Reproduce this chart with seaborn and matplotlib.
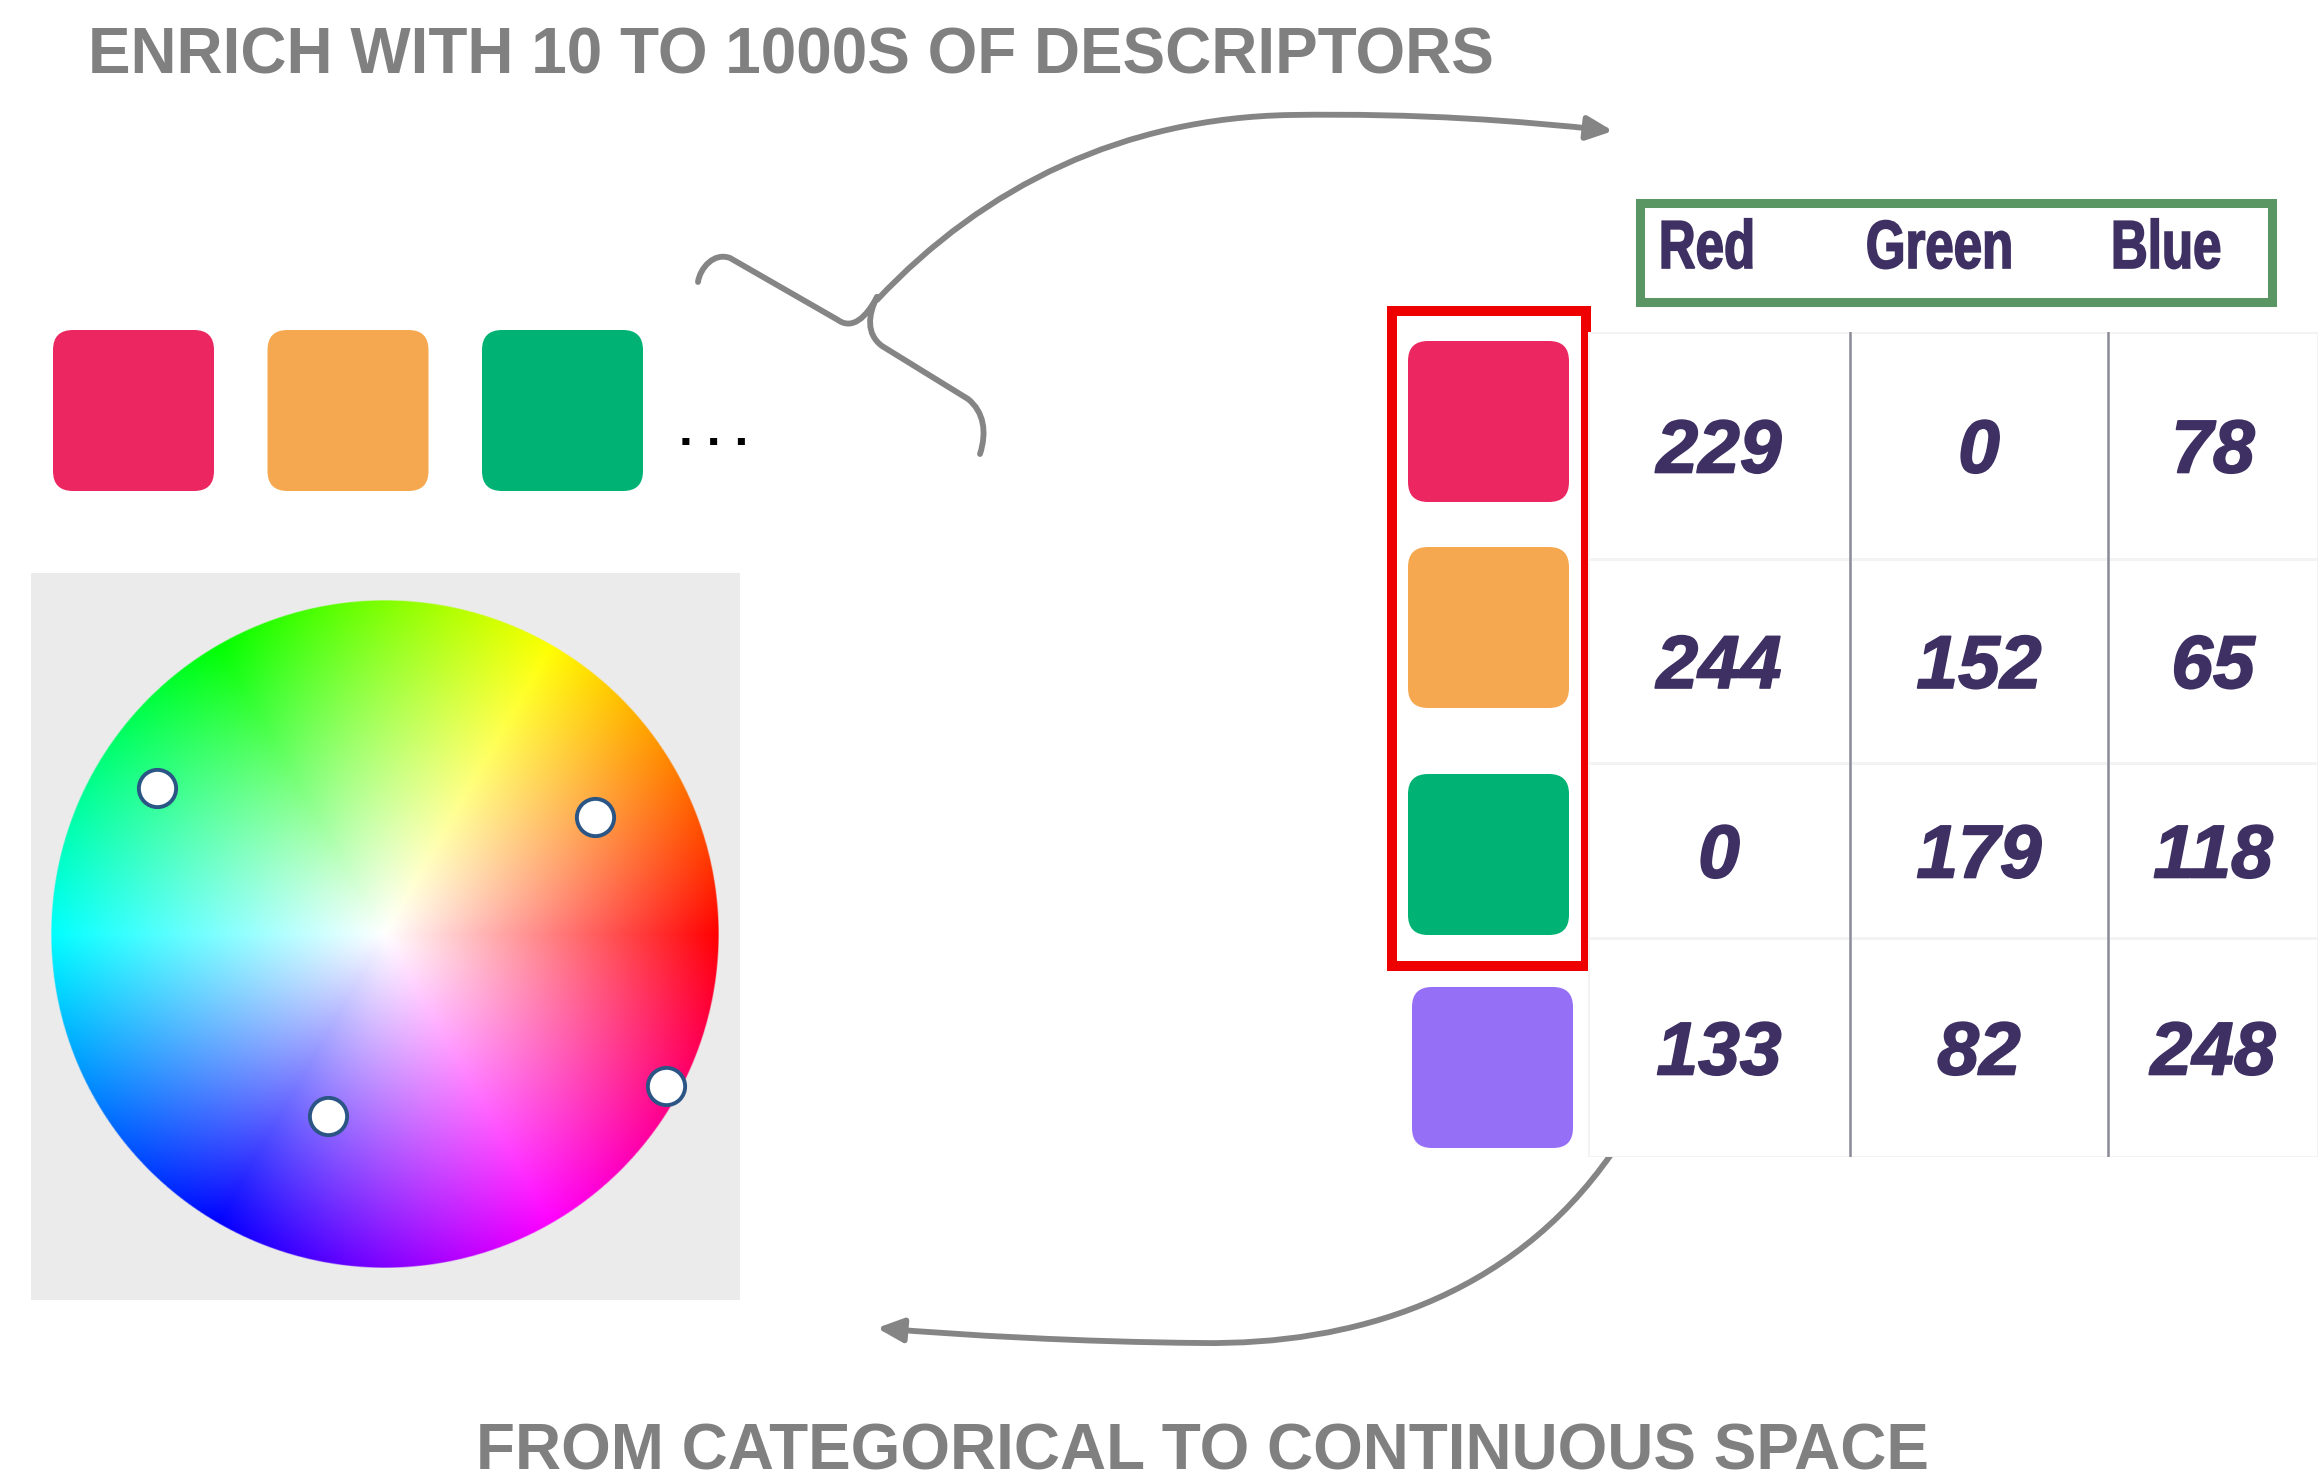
import numpy as np
import pandas as pd
import seaborn as sns
import matplotlib
matplotlib.use("Agg")
import matplotlib.pyplot as plt
import matplotlib.patheffects as pe
from matplotlib.colors import ListedColormap, hsv_to_rgb
from matplotlib.patches import FancyBboxPatch, FancyArrowPatch, Rectangle, PathPatch
from matplotlib.path import Path
from matplotlib.textpath import TextPath
from matplotlib.font_manager import FontProperties
from matplotlib.transforms import Affine2D

# dados
canais = ["Red", "Green", "Blue"]
cores_nome = ["pink", "orange", "green", "purple"]
valores_rgb = [
    [229, 0, 78],
    [244, 152, 65],
    [0, 179, 118],
    [133, 82, 248],
]
cores_swatch = ["#EB2660", "#F6A850", "#00B374", "#9570F7"]
n_exemplos = 3  # quadrados mostrados a esquerda (os categoricos)

# alças do seletor de cor (coordenadas no raio da roda)
alca_x = [-0.680, 0.630, 0.844, -0.169]
alca_y = [0.437, 0.350, -0.455, -0.545]

titulo_topo = "ENRICH WITH 10 TO 1000S OF DESCRIPTORS"
titulo_base = "FROM CATEGORICAL TO CONTINUOUS SPACE"

W, H = 2324, 1484
sns.set_theme(style="white")
plt.rcParams["font.family"] = ["Liberation Sans", "DejaVu Sans"]

fig = plt.figure(figsize=(W / 100, H / 100), dpi=100)
fig.patch.set_facecolor("white")


def caixa(x0, y0, x1, y1):
    # pixels (origem no topo) -> fração da figura
    return [x0 / W, 1 - y1 / H, (x1 - x0) / W, (y1 - y0) / H]


# camada de fundo em pixels p/ anotações
ax = fig.add_axes([0, 0, 1, 1])
ax.set_xlim(0, W)
ax.set_ylim(H, 0)
ax.axis("off")
ax.patch.set_alpha(0)

cinza_txt = "#808080"
roxo_txt = "#3e3063"
cinza_seta = "#858585"

ax.text(88, 74, titulo_topo, fontsize=46, fontweight="bold", color=cinza_txt,
        ha="left", va="baseline")
ax.text(1202, 1470, titulo_base, fontsize=46, fontweight="bold", color=cinza_txt,
        ha="center", va="baseline")

# quadrados categoricos a esquerda
lado = 161
for i in range(n_exemplos):
    x0 = 53 + i * 214.5
    ax.add_patch(FancyBboxPatch((x0 + 20, 330 + 20), lado - 40, lado - 40,
                                boxstyle="round,pad=20", fc=cores_swatch[i], ec="none"))
ax.text(714, 445, ". . .", fontsize=36, fontweight="bold", color="black",
        ha="center", va="baseline")

# quadrados da tabela
swatch_y = [341, 547, 774, 987]
swatch_x = [1408, 1408, 1408, 1412]
for i, c in enumerate(cores_swatch):
    ax.add_patch(FancyBboxPatch((swatch_x[i] + 20, swatch_y[i] + 20), lado - 40, lado - 40,
                                boxstyle="round,pad=20", fc=c, ec="none", zorder=3))

# caixas de destaque
ax.add_patch(Rectangle((1392, 311), 1586 - 1392, 966 - 311, fill=False, ec="#EE0000", lw=7.2, zorder=4))
ax.add_patch(Rectangle((1640, 203), 2272 - 1640, 302 - 203, fill=False, ec="#5A9664", lw=6.5, zorder=4))

# cabeçalho (fonte condensada: texto estreitado na horizontal)
header_x = [1707, 1939, 2167]
fp = FontProperties(family="Liberation Sans", weight="bold")
estreito = 0.75
for nome, hx in zip(canais, header_x):
    tp = TextPath((0, 0), nome, size=68, prop=fp)
    bb = tp.get_extents()
    larg = bb.width * estreito
    tr = Affine2D().scale(estreito, -1).translate(hx - larg / 2 - bb.x0 * estreito, 268)
    ax.add_patch(PathPatch(tr.transform_path(tp), fc=roxo_txt, ec=roxo_txt, lw=1.2, zorder=5))

# chave + setas
C = Path.CURVE4
L = Path.LINETO
M = Path.MOVETO
lw_seta = 4.2
chave = Path(
    [(698, 282), (700, 268), (714, 252), (730, 258), (838, 320),
     (852, 330), (866, 318), (877, 297)],
    [M, C, C, C, L, C, C, C])
ax.add_patch(FancyArrowPatch(path=chave, arrowstyle="-", color=cinza_seta, lw=lw_seta))
chave2 = Path(
    [(877, 297), (868, 315), (866, 334), (882, 346), (968, 399),
     (984, 412), (987, 432), (980, 454)],
    [M, C, C, C, L, C, C, C])
ax.add_patch(FancyArrowPatch(path=chave2, arrowstyle="-", color=cinza_seta, lw=lw_seta))

seta_topo = Path(
    [(877, 300), (985, 185), (1125, 118), (1290, 115),
     (1420, 113), (1520, 121), (1613, 131)],
    [M, C, C, C, C, C, C])
ax.add_patch(FancyArrowPatch(path=seta_topo, arrowstyle="-|>,head_length=1.3,head_width=0.6",
                             mutation_scale=12, color=cinza_seta, lw=lw_seta))
seta_base = Path(
    [(1612, 1153), (1510, 1300), (1350, 1345), (1202, 1343),
     (1080, 1342), (960, 1335), (877, 1328)],
    [M, C, C, C, C, C, C])
ax.add_patch(FancyArrowPatch(path=seta_base, arrowstyle="-|>,head_length=1.3,head_width=0.6",
                             mutation_scale=12, color=cinza_seta, lw=lw_seta))

# roda de cores
cx, cy, R = 384.5, 934, 334
axw = fig.add_axes(caixa(31, 573, 740, 1300))
axw.set_facecolor("#EBEBEB")
n = 900
g = np.linspace(-1, 1, n)
gx, gy = np.meshgrid(g, g)
r = np.hypot(gx, gy)
hue = (np.arctan2(gy, gx) / (2 * np.pi)) % 1
hsv = np.dstack([hue, np.clip(r, 0, 1), np.ones_like(r)])
rgba = np.dstack([hsv_to_rgb(hsv), np.clip((1 - r) * n / 2 + 0.5, 0, 1)])
axw.imshow(rgba, extent=(-1, 1, -1, 1), origin="lower", interpolation="bilinear", zorder=1)
sns.scatterplot(x=alca_x, y=alca_y, s=720, color="white", edgecolor="#2A5585",
                linewidth=2.8, ax=axw, zorder=3, legend=False)
axw.set_xlim((31 - cx) / R, (740 - cx) / R)
axw.set_ylim((cy - 1300) / R, (cy - 573) / R)
axw.set_xticks([])
axw.set_yticks([])
for s in axw.spines.values():
    s.set_visible(False)

# tabela de valores (heatmap branco com anotações)
col_edges = [1588, 1850, 2108, 2318]
row_edges = [332, 559, 763, 938, 1157]
tabela = pd.DataFrame(valores_rgb, index=cores_nome, columns=canais)
axt = fig.add_axes(caixa(col_edges[0], row_edges[0], col_edges[-1], row_edges[-1]))
sns.heatmap(tabela, annot=True, fmt="d", cmap=ListedColormap(["white"]), cbar=False,
            linewidths=2, linecolor="#F3F3F3", xticklabels=False, yticklabels=False,
            annot_kws=dict(fontsize=54, fontweight="bold", fontstyle="italic", color=roxo_txt,
                           va="center_baseline",
                           path_effects=[pe.withStroke(linewidth=1.2, foreground=roxo_txt)]),
            ax=axt)
ci = np.arange(len(col_edges))
ri = np.arange(len(row_edges))
axt.set_xscale("function", functions=(lambda v: np.interp(v, ci, col_edges),
                                      lambda v: np.interp(v, col_edges, ci)))
axt.set_yscale("function", functions=(lambda v: np.interp(v, ri, row_edges),
                                      lambda v: np.interp(v, row_edges, ri)))
axt.set_xlim(0, len(canais))
axt.set_ylim(len(cores_nome), 0)
axt.set_xticks([])
axt.set_yticks([])
axt.minorticks_off()
for k in range(1, len(canais)):
    axt.axvline(k, color="#8C8C99", lw=1.8)
axt.set_xlabel("")
axt.set_ylabel("")

fig.savefig("out.png", dpi=100, facecolor="white")
